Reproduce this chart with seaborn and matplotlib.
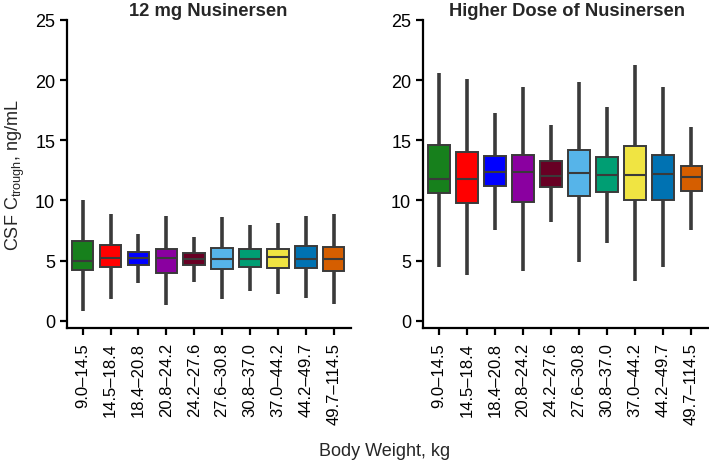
import numpy as np
import pandas as pd
import matplotlib
matplotlib.use("Agg")
import matplotlib.pyplot as plt
import seaborn as sns

categories = ["9.0–14.5", "14.5–18.4", "18.4–20.8", "20.8–24.2", "24.2–27.6",
              "27.6–30.8", "30.8–37.0", "37.0–44.2", "44.2–49.7", "49.7–114.5"]
colors = ["#17801c", "#ff0000", "#0000ff", "#8a00a0", "#680024",
          "#56b4e9", "#009e73", "#f0e442", "#0072b2", "#d55e00"]

# 12 mg panel: whisker low, Q1, median, Q3, whisker high
low12 = [0.8, 1.8, 3.1, 1.3, 3.25, 1.8, 2.45, 2.25, 1.85, 1.4]
q1_12 = [4.2, 4.45, 4.65, 4.0, 4.65, 4.3, 4.45, 4.4, 4.35, 4.15]
med12 = [5.0, 5.2, 5.25, 5.2, 5.15, 5.15, 5.15, 5.3, 5.1, 5.15]
q3_12 = [6.6, 6.3, 5.7, 6.0, 5.65, 6.05, 6.0, 6.0, 6.2, 6.15]
high12 = [10.0, 8.9, 7.2, 8.7, 7.0, 8.6, 7.95, 8.1, 8.7, 8.9]

# Higher dose panel
lowHD = [4.5, 3.8, 7.5, 4.1, 8.2, 4.9, 6.5, 3.3, 4.5, 7.5]
q1_HD = [10.6, 9.8, 11.2, 9.9, 11.1, 10.4, 10.7, 10.0, 10.05, 10.75]
medHD = [11.8, 11.8, 12.4, 12.35, 12.0, 12.3, 12.15, 12.1, 12.2, 11.95]
q3_HD = [14.6, 14.0, 13.7, 13.8, 13.25, 14.2, 13.6, 14.5, 13.8, 12.9]
highHD = [20.6, 20.1, 17.3, 19.4, 16.3, 19.8, 17.8, 21.25, 19.4, 16.1]

titles = ["12 mg Nusinersen", "Higher Dose of Nusinersen"]
yticks = [0, 5, 10, 15, 20, 25]


def long_frame(lo, q1, md, q3, hi):
    rows = []
    for i, c in enumerate(categories):
        for v in (lo[i], q1[i], md[i], q3[i], hi[i]):
            rows.append({"group": c, "value": v})
    return pd.DataFrame(rows)


sns.set_theme(style="ticks")
plt.rcParams["font.family"] = ["Liberation Sans", "DejaVu Sans"]
plt.rcParams["mathtext.fontset"] = "custom"
plt.rcParams["mathtext.rm"] = "Liberation Sans"
plt.rcParams["mathtext.it"] = "Liberation Sans:italic"
plt.rcParams["mathtext.bf"] = "Liberation Sans:bold"

W, H = 709, 464
fig = plt.figure(figsize=(W / 100, H / 100), dpi=100)
ax1 = fig.add_axes([0.0945, 0.291, 0.4005, 0.664])
ax2 = fig.add_axes([0.5966, 0.291, 0.403, 0.664])

frames = [long_frame(low12, q1_12, med12, q3_12, high12),
          long_frame(lowHD, q1_HD, medHD, q3_HD, highHD)]

edge = "#3a3a3a"
for ax, df, title in zip([ax1, ax2], frames, titles):
    sns.boxplot(data=df, x="group", y="value", hue="group", order=categories,
                hue_order=categories, palette=colors, saturation=1,
                legend=False, dodge=False,
                width=0.77, whis=(0, 100), showcaps=False, showfliers=False,
                linecolor=edge, linewidth=1.4,
                whiskerprops={"linewidth": 2.6, "color": edge},
                medianprops={"linewidth": 1.5, "color": edge},
                ax=ax)
    ax.set_ylim(-0.6, 25)
    ax.set_yticks(yticks)
    ax.set_xlim(-0.56, 9.62)
    ax.set_xlabel("")
    ax.set_ylabel("")
    ax.tick_params(axis="x", labelrotation=90, labelsize=12, length=5, width=1.6,
                   colors="black", pad=5)
    ax.tick_params(axis="y", labelsize=13, length=5, width=1.6, colors="black")
    for s in ["left", "bottom"]:
        ax.spines[s].set_linewidth(1.6)
        ax.spines[s].set_color("black")
    for s in ["top", "right"]:
        ax.spines[s].set_visible(False)

# panel titles
fig.text(208 / W, 1 - 11 / H, titles[0], ha="center", va="center",
         fontsize=13.2, fontweight="bold")
fig.text(567 / W, 1 - 11 / H, titles[1], ha="center", va="center",
         fontsize=13.2, fontweight="bold")

ax1.set_ylabel(r"CSF C$_{\mathregular{trough}}$, ng/mL", fontsize=13, labelpad=6)
fig.text(385 / W, 1 - 452 / H, "Body Weight, kg", ha="center", va="center",
         fontsize=13)

fig.savefig("out.png", dpi=100)
